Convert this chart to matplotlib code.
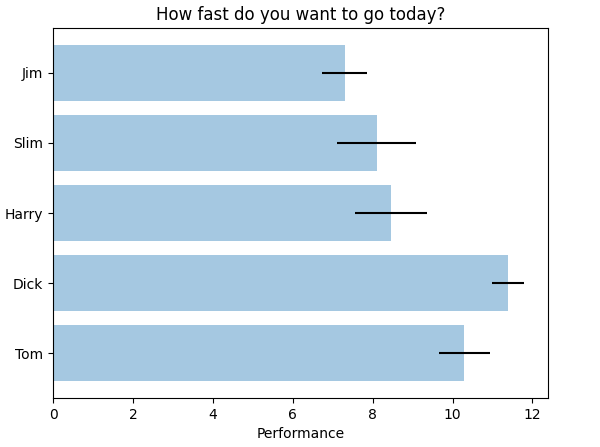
import matplotlib
matplotlib.use("Agg")
import matplotlib.pyplot as plt

people = ['Tom', 'Dick', 'Harry', 'Slim', 'Jim']
performance = [10.29, 11.4, 8.47, 8.1, 7.3]
error = [0.64, 0.4, 0.9, 0.99, 0.56]

fig = plt.figure(figsize=(6, 4.47), dpi=100)
ax = fig.add_axes([53/600, 1-398/447, (548-53)/600, (398-28)/447])
y_pos = list(range(len(people)))
ax.barh(y_pos, performance, xerr=error, align='center', color='#1f77b4', alpha=0.4,
        ecolor='black', error_kw=dict(alpha=1.0, elinewidth=1.5))
ax.set_yticks(y_pos)
ax.set_yticklabels(people)
ax.set_xlabel('Performance')
ax.set_title('How fast do you want to go today?')
fig.savefig('out.png', dpi=100)
